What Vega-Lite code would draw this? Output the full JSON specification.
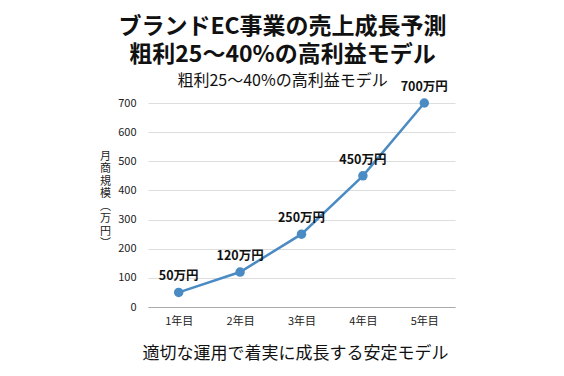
{
  "$schema": "https://vega.github.io/schema/vega-lite/v6.json",
  "width": 307,
  "height": 204,
  "autosize": {"type": "none"},
  "padding": {"left": 148, "top": 103, "right": 109, "bottom": 69},
  "background": "white",
  "config": {
    "font": "Noto Sans CJK JP",
    "view": {"stroke": null}
  },
  "title": {
    "text": ["ブランドEC事業の売上成長予測", "粗利25〜40%の高利益モデル"],
    "subtitle": "粗利25〜40%の高利益モデル",
    "anchor": "middle",
    "dx": -19,
    "offset": -8,
    "fontSize": 23,
    "fontWeight": "bold",
    "lineHeight": 28,
    "color": "#111",
    "subtitleFontSize": 16,
    "subtitleColor": "#111",
    "subtitlePadding": 6
  },
  "data": {
    "values": [
      {"year": "1年目", "value": 50, "label": "50万円"},
      {"year": "2年目", "value": 120, "label": "120万円"},
      {"year": "3年目", "value": 250, "label": "250万円"},
      {"year": "4年目", "value": 450, "label": "450万円"},
      {"year": "5年目", "value": 700, "label": "700万円"}
    ]
  },
  "encoding": {
    "x": {
      "field": "year",
      "type": "ordinal",
      "scale": {"type": "point", "padding": 0.5},
      "axis": {
        "title": "適切な運用で着実に成長する安定モデル",
        "titleFontSize": 17,
        "titleFontWeight": "normal",
        "titleColor": "#111",
        "titleAnchor": "start",
        "titleX": -6,
        "titlePadding": 19,
        "labelAngle": 0,
        "labelFontSize": 11,
        "labelColor": "#222",
        "labelPadding": 8,
        "domain": true,
        "domainColor": "#aaa",
        "ticks": false
      }
    },
    "y": {
      "field": "value",
      "type": "quantitative",
      "scale": {"domain": [0, 700]},
      "axis": {
        "title": ["月", "商", "規", "模", "︵", "万", "円", "︶"],
        "titleAngle": 0,
        "titleFontSize": 11,
        "titleFontWeight": "normal",
        "titleColor": "#222",
        "titleLineHeight": 12.5,
        "titleX": -43,
        "titleY": 47,
        "titleAlign": "center",
        "titleBaseline": "top",
        "values": [0, 100, 200, 300, 400, 500, 600, 700],
        "labelFontSize": 11,
        "labelColor": "#222",
        "labelPadding": 12,
        "ticks": false,
        "domain": false,
        "gridColor": "#ddd"
      }
    }
  },
  "layer": [
    {"mark": {"type": "line", "color": "#4a8bc3", "strokeWidth": 2.5}},
    {"mark": {"type": "circle", "color": "#4a8bc3", "size": 90, "opacity": 1}},
    {
      "mark": {"type": "text", "dy": -16, "fontSize": 12.5, "fontWeight": "bold", "color": "#111"},
      "encoding": {"text": {"field": "label"}}
    }
  ]
}
